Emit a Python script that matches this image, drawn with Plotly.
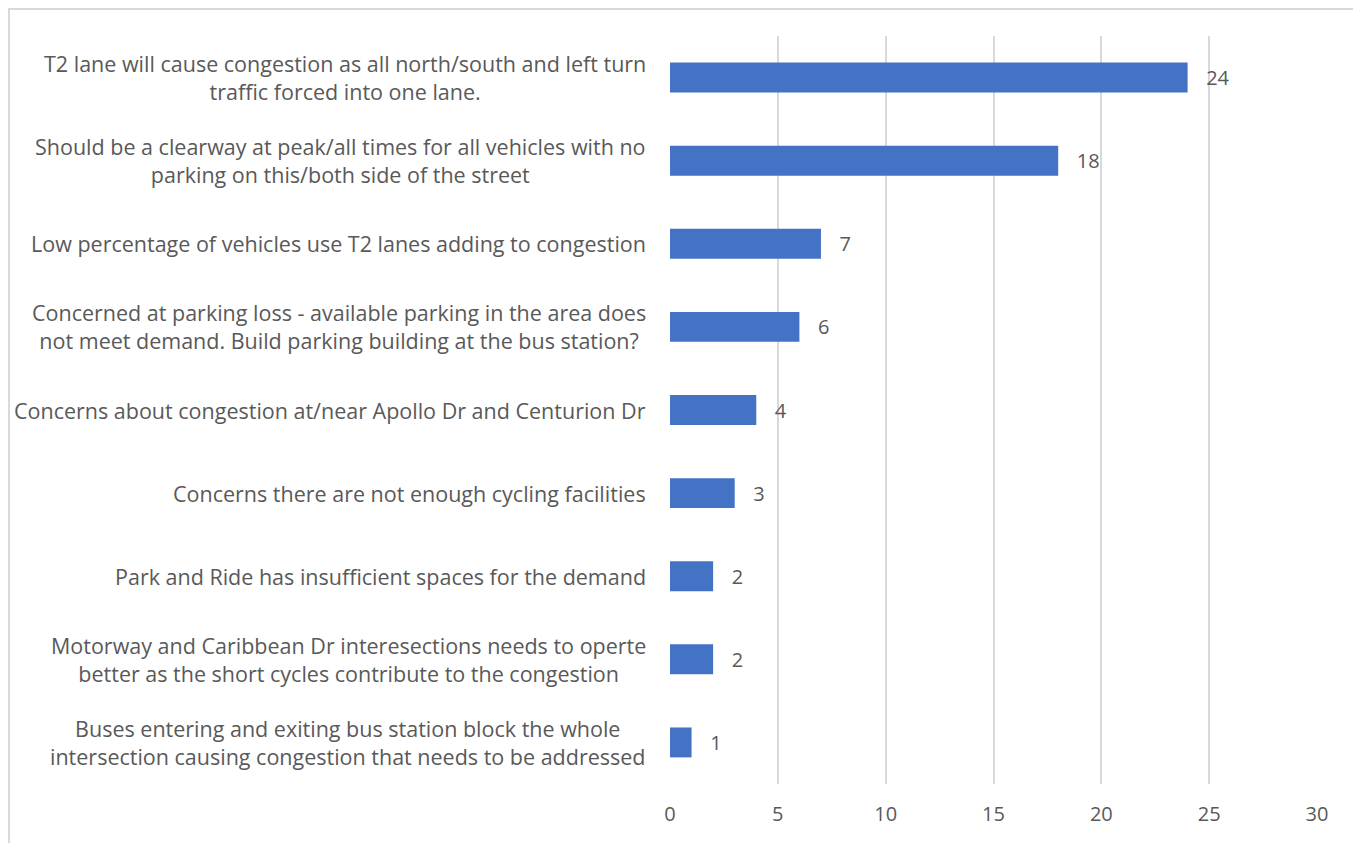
import plotly.graph_objects as go

categories = [
    "T2 lane will cause congestion as all north/south and left turn<br>traffic forced into one lane.",
    "Should be a clearway at peak/all times for all vehicles with no<br>parking on this/both side of the street",
    "Low percentage of vehicles use T2 lanes adding to congestion",
    "Concerned at parking loss - available parking in the area does<br>not meet demand. Build parking building at the bus station?",
    "Concerns about congestion at/near Apollo Dr and Centurion Dr",
    "Concerns there are not enough cycling facilities",
    "Park and Ride has insufficient spaces for the demand",
    "Motorway and Caribbean Dr interesections needs to operte<br>better as the short cycles contribute to the congestion",
    "Buses entering and exiting bus station block the whole<br>intersection causing congestion that needs to be addressed",
]
values = [24, 18, 7, 6, 4, 3, 2, 2, 1]
x_ticks = [0, 5, 10, 15, 20, 25, 30]

ids = [f"c{i}" for i in range(len(categories))]

FONT = "Open Sans"
GREY = "#595959"

fig = go.Figure()
fig.add_trace(go.Bar(
    y=ids, x=values, orientation="h",
    marker=dict(color="#4472C4", line=dict(width=0)),
    width=0.36,
    text=["\u00a0\u00a0\u00a0" + str(v) for v in values], textposition="outside",
    textfont=dict(family=FONT, size=20, color=GREY),
    cliponaxis=False,
))

annotations = []
for cid, label in zip(ids, categories):
    annotations.append(dict(
        x=0, xref="paper", xanchor="right", xshift=-22,
        y=cid, yref="y", yanchor="middle",
        text=label, showarrow=False, align="center",
        font=dict(family=FONT, size=21.5, color=GREY),
    ))

fig.update_layout(
    width=1353, height=835,
    margin=dict(l=662, r=44, t=28, b=59),
    paper_bgcolor="white", plot_bgcolor="white",
    showlegend=False,
    annotations=annotations,
    xaxis=dict(range=[0, 30], tickvals=x_ticks, showgrid=True,
               gridcolor="#D9D9D9", gridwidth=2, zeroline=False,
               tickfont=dict(family=FONT, size=20, color=GREY),
               ticks="", showline=False, fixedrange=True,
               ticklabelstandoff=16),
    yaxis=dict(categoryorder="array", categoryarray=ids[::-1],
               showticklabels=False, ticks="", showgrid=False,
               zeroline=False, showline=False),
    shapes=[dict(type="path", xref="paper", yref="paper",
                 path="M -1.0217 -0.2 L -1.0217 1.036 L 1.0618 1.036 L 1.0618 -0.2",
                 line=dict(color="#D9D9D9", width=2))],
    bargap=0.64,
)
fig.write_html("out.html")
